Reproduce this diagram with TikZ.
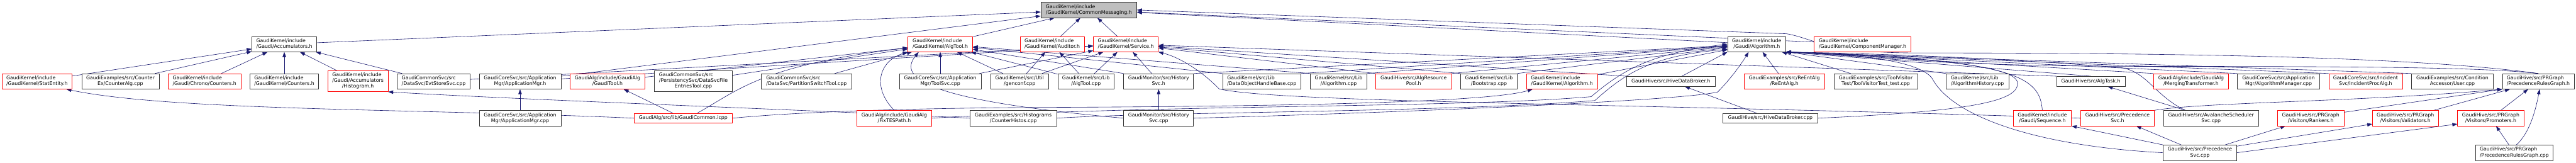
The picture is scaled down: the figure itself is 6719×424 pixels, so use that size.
\documentclass[tikz,border=0pt]{standalone}
\usepackage{fontspec}
\setmainfont{DejaVu Sans}
\usetikzlibrary{arrows.meta}
\definecolor{edgeblue}{HTML}{191970}
\definecolor{rootgray}{HTML}{BFBFBF}
\definecolor{boxred}{HTML}{FF0000}
\definecolor{boxblack}{HTML}{333333}
\pgfdeclarelayer{bg}
\pgfsetlayers{bg,main}
\newcommand\two[2]{\begin{tabular}{@{}l@{}}#1\\\multicolumn{1}{@{}c@{}}{#2}\end{tabular}}
\newcommand\three[3]{\begin{tabular}{@{}l@{}}#1\\#2\\\multicolumn{1}{@{}c@{}}{#3}\end{tabular}}
\newcommand\bx[7]{\node[#6, minimum width={#3-#2}, minimum height={#5-#4}] (#1) at ({(#2+#3)/2},{(#4+#5)/2}) {#7};}
\tikzset{
  box/.style={draw=boxblack, fill=white, line width=1pt, inner sep=0pt},
  rbox/.style={box, draw=boxred},
  rootbox/.style={box, fill=rootgray, draw=boxblack},
  dep/.style={draw=edgeblue, line width=1pt, -{Triangle[length=13pt,width=9pt]}},
}
\begin{document}
\begin{tikzpicture}[x=1pt,y=-1pt,font=\fontsize{12.8}{15}\selectfont]
\useasboundingbox (0,0) rectangle (6719,424);
% row 0
\bx{root}{2715}{2965}{6}{46}{rootbox}{\two{GaudiKernel/include}{/GaudiKernel/CommonMessaging.h}}
% row 1
\bx{acc}{657}{826}{95}{135}{box}{\two{GaudiKernel/include}{/Gaudi/Accumulators.h}}
\bx{algtoolh}{2368}{2537}{95}{135}{rbox}{\two{GaudiKernel/include}{/GaudiKernel/AlgTool.h}}
\bx{auditor}{2661}{2828}{95}{135}{rbox}{\two{GaudiKernel/include}{/GaudiKernel/Auditor.h}}
\bx{service}{2852}{3021}{95}{135}{rbox}{\two{GaudiKernel/include}{/GaudiKernel/Service.h}}
\bx{galg}{4506}{4658}{95}{135}{box}{\two{GaudiKernel/include}{/Gaudi/Algorithm.h}}
\bx{compmgr}{4732}{4984}{95}{135}{rbox}{\two{GaudiKernel/include}{/GaudiKernel/ComponentManager.h}}
% row 2
\bx{statentity}{5}{188}{192}{232}{rbox}{\two{GaudiKernel/include}{/GaudiKernel/StatEntity.h}}
\bx{counteralg}{213}{415}{192}{232}{box}{\two{GaudiExamples/src/Counter}{Ex/CounterAlg.cpp}}
\bx{chrono}{439}{628}{192}{232}{rbox}{\two{GaudiKernel/include}{/Gaudi/Chrono/Counters.h}}
\bx{counters}{652}{831}{192}{232}{box}{\two{GaudiKernel/include}{/GaudiKernel/Counters.h}}
\bx{histogram}{855}{1012}{184}{239}{rbox}{\three{GaudiKernel/include}{/Gaudi/Accumulators}{/Histogram.h}}
\bx{evtstore}{1036}{1226}{192}{232}{box}{\two{GaudiCommonSvc/src}{/DataSvc/EvtStoreSvc.cpp}}
\bx{appmgrh}{1250}{1463}{192}{232}{box}{\two{GaudiCoreSvc/src/Application}{Mgr/ApplicationMgr.h}}
\bx{gauditool}{1487}{1682}{192}{232}{rbox}{\two{GaudiAlg/include/GaudiAlg}{/GaudiTool.h}}
\bx{dsfet}{1707}{1910}{184}{239}{box}{\three{GaudiCommonSvc/src}{/PersistencySvc/DataSvcFile}{EntriesTool.cpp}}
\bx{pst}{1986}{2221}{192}{232}{box}{\two{GaudiCommonSvc/src}{/DataSvc/PartitionSwitchTool.cpp}}
\bx{toolsvc}{2346}{2559}{192}{232}{box}{\two{GaudiCoreSvc/src/Application}{Mgr/ToolSvc.cpp}}
\bx{genconf}{2584}{2735}{192}{232}{box}{\two{GaudiKernel/src/Util}{/genconf.cpp}}
\bx{algtoolcpp}{2759}{2906}{192}{232}{box}{\two{GaudiKernel/src/Lib}{/AlgTool.cpp}}
\bx{histsvch}{2931}{3113}{192}{232}{box}{\two{GaudiMonitor/src/History}{Svc.h}}
\bx{dohb}{3189}{3393}{192}{232}{box}{\two{GaudiKernel/src/Lib}{/DataObjectHandleBase.cpp}}
\bx{algcpp}{3418}{3565}{192}{232}{box}{\two{GaudiKernel/src/Lib}{/Algorithm.cpp}}
\bx{arp}{3588}{3786}{192}{232}{rbox}{\two{GaudiHive/src/AlgResource}{Pool.h}}
\bx{bootstrap}{3810}{3957}{192}{232}{box}{\two{GaudiKernel/src/Lib}{/Bootstrap.cpp}}
\bx{gkalg}{3981}{4167}{192}{232}{rbox}{\two{GaudiKernel/include}{/GaudiKernel/Algorithm.h}}
\bx{hdbh}{4242}{4474}{199}{225}{box}{GaudiHive/src/HiveDataBroker.h}
\bx{reent}{4549}{4759}{192}{232}{rbox}{\two{GaudiExamples/src/ReEntAlg}{/ReEntAlg.h}}
\bx{tvt}{4783}{5002}{192}{232}{box}{\two{GaudiExamples/src/ToolVisitor}{Test/ToolVisitorTest\_test.cpp}}
\bx{alghist}{5076}{5239}{192}{232}{box}{\two{GaudiKernel/src/Lib}{/AlgorithmHistory.cpp}}
\bx{algtask}{5364}{5543}{199}{225}{box}{GaudiHive/src/AlgTask.h}
\bx{merging}{5617}{5813}{192}{232}{rbox}{\two{GaudiAlg/include/GaudiAlg}{/MergingTransformer.h}}
\bx{algmgr}{5836}{6050}{192}{232}{box}{\two{GaudiCoreSvc/src/Application}{Mgr/AlgorithmManager.cpp}}
\bx{incident}{6074}{6266}{192}{232}{rbox}{\two{GaudiCoreSvc/src/Incident}{Svc/IncidentProcAlg.h}}
\bx{user}{6290}{6503}{192}{232}{box}{\two{GaudiExamples/src/Condition}{Accessor/User.cpp}}
\bx{prgh}{6527}{6714}{192}{232}{box}{\two{GaudiHive/src/PRGraph}{/PrecedenceRulesGraph.h}}
% row 3
\bx{appmgrcpp}{1250}{1463}{288}{328}{box}{\two{GaudiCoreSvc/src/Application}{Mgr/ApplicationMgr.cpp}}
\bx{gcicpp}{1654}{1910}{295}{321}{rbox}{GaudiAlg/src/lib/GaudiCommon.icpp}
\bx{fixtes}{2235}{2430}{288}{328}{rbox}{\two{GaudiAlg/include/GaudiAlg}{/FixTESPath.h}}
\bx{counterhistos}{2530}{2756}{288}{328}{box}{\two{GaudiExamples/src/Histograms}{/CounterHistos.cpp}}
\bx{histsvccpp}{2931}{3113}{288}{328}{box}{\two{GaudiMonitor/src/History}{Svc.cpp}}
\bx{hdbcpp}{4494}{4741}{295}{321}{box}{GaudiHive/src/HiveDataBroker.cpp}
\bx{sequence}{5251}{5403}{288}{328}{rbox}{\two{GaudiKernel/include}{/Gaudi/Sequence.h}}
\bx{precsvch}{5427}{5619}{288}{328}{rbox}{\two{GaudiHive/src/Precedence}{Svc.h}}
\bx{avalanche}{5643}{5891}{288}{328}{box}{\two{GaudiHive/src/AvalancheScheduler}{Svc.cpp}}
\bx{rankers}{5940}{6114}{288}{328}{rbox}{\two{GaudiHive/src/PRGraph}{/Visitors/Rankers.h}}
\bx{validators}{6188}{6360}{288}{328}{rbox}{\two{GaudiHive/src/PRGraph}{/Visitors/Validators.h}}
\bx{promoters}{6410}{6583}{288}{328}{rbox}{\two{GaudiHive/src/PRGraph}{/Visitors/Promoters.h}}
% row 4
\bx{precsvccpp}{5642}{5834}{378}{418}{box}{\two{GaudiHive/src/Precedence}{Svc.cpp}}
\bx{prgcpp}{6457}{6659}{378}{418}{box}{\two{GaudiHive/src/PRGraph}{/PrecedenceRulesGraph.cpp}}

\begin{pgfonlayer}{bg}
\fill[white] (0,0) rectangle (6719,424);
% into CommonMessaging.h
\draw[dep] (acc) -- (root);
\draw[dep] (appmgrh) -- (root);
\draw[dep] (algtoolh) -- (root);
\draw[dep] (auditor) -- (root);
\draw[dep] (service) -- (root);
\draw[dep] (galg) -- (root);
\draw[dep] (compmgr) -- (root);
\draw[dep] (prgh.north) .. controls (6300,148) and (5700,138) .. (5000,138) .. controls (4760,138) and (4730,100) .. (4660,88) -- (root.east);
% into Accumulators.h
\draw[dep] (statentity) -- (acc);
\draw[dep] (counteralg) -- (acc);
\draw[dep] (chrono) -- (acc);
\draw[dep] (counters) -- (acc);
\draw[dep] (histogram) -- (acc);
\draw[dep] (evtstore) -- (acc);
% misc left
\draw[dep] (gcicpp.west) .. controls (1100,283) and (450,290) .. (statentity.-15);
\draw[dep] (counterhistos.west) .. controls (2200,290) and (1400,262) .. (histogram.south east);
\draw[dep] (appmgrcpp) -- (appmgrh);
\draw[dep] (gcicpp) -- (gauditool);
% into AlgTool.h
\draw[dep] (gauditool) -- (algtoolh);
\draw[dep] (dsfet) -- (algtoolh);
\draw[dep] (pst) -- (algtoolh);
\draw[dep] (gcicpp.20) .. controls (1920,240) and (1980,170) .. (algtoolh);
\draw[dep] (fixtes.north) .. controls (2275,230) and (2290,160) .. (algtoolh.south west);
\draw[dep] (toolsvc) -- (algtoolh);
\draw[dep] (genconf) -- (algtoolh);
\draw[dep] (algtoolcpp) -- (algtoolh);
\draw[dep] (histsvccpp.west) .. controls (2420,262) and (2340,205) .. (algtoolh.-160);
\draw[dep] (histsvch.north west) -- (algtoolh);
\draw[dep] (dohb.north west) -- (algtoolh);
\draw[dep] (algcpp.north west) -- (algtoolh);
% into Auditor.h
\draw[dep] (genconf) -- (auditor);
\draw[dep] (algtoolcpp) -- (auditor);
% into Service.h
\draw[dep] (evtstore) -- (service);
\draw[dep] (appmgrh) -- (service);
\draw[dep] (toolsvc) -- (service);
\draw[dep] (genconf) -- (service);
\draw[dep] (algtoolcpp) -- (service);
\draw[dep] (histsvch) -- (service);
\draw[dep] (arp.north west) -- (service);
\draw[dep] (bootstrap.north west) -- (service);
\draw[dep] (hdbh.north west) -- (service);
\draw[dep] (algtask.north west) -- (service);
\draw[dep] (precsvch.west) .. controls (4200,268) and (3350,268) .. (3180,232) .. controls (3140,190) and (3080,150) .. (service.south east);
% into Gaudi/Algorithm.h from the left
\draw[dep] (gkalg) -- (galg);
\draw[dep] (algcpp.north east) -- (galg);
\draw[dep] (arp.north east) -- (galg);
\draw[dep] (dohb.north east) -- (galg);
\draw[dep] (bootstrap.north east) -- (galg);
\draw[dep] (histsvch.north east) -- (galg);
\draw[dep] (hdbh.25) -- (galg.south west);
\draw[dep] (fixtes.east) .. controls (3000,272) and (3800,282) .. (4150,252) .. controls (4230,185) and (4300,140) .. (galg.west);
\draw[dep] (counterhistos.east) .. controls (3000,292) and (3800,292) .. (4160,262) .. controls (4240,190) and (4310,145) .. (galg.190);
\draw[dep] (histsvccpp.east) .. controls (3700,292) and (4380,262) .. (4480,240) .. controls (4510,210) and (4540,170) .. (galg.-136);
\draw[dep] (gcicpp.east) .. controls (2100,290) and (2400,282) .. (2700,280) .. controls (3500,277) and (3900,262) .. (gkalg.-165);
% into Gaudi/Algorithm.h from the right
\draw[dep] (reent) -- (galg);
\draw[dep] (tvt) -- (galg);
\draw[dep] (alghist.north west) -- (galg.south east);
\draw[dep] (algtask.north) -- (galg.south east);
\draw[dep] (merging.north west) -- (galg.south east);
\draw[dep] (algmgr.north west) -- (galg.south east);
\draw[dep] (incident.north west) -- (galg.south east);
\draw[dep] (user.north west) -- (galg.south east);
\draw[dep] (prgh.north) .. controls (6480,176) and (6200,173) .. (5600,173) .. controls (5000,173) and (4800,140) .. (galg.south east);
\draw[dep] (sequence.north) .. controls (5320,200) and (5260,155) .. (galg.south east);
\draw[dep] (avalanche.163) .. controls (5620,250) and (5600,185) .. (5530,176) .. controls (5200,150) and (4900,140) .. (galg.south east);
\draw[dep] (precsvccpp.west) .. controls (5300,380) and (5090,300) .. (5040,205) .. controls (5010,160) and (4850,140) .. (galg.south east);
\draw[dep] (hdbcpp.east) .. controls (5150,290) and (5268,262) .. (5262,215) .. controls (5256,168) and (5000,150) .. (galg.south east);
% Hive part
\draw[dep] (hdbcpp) -- (hdbh);
\draw[dep] (avalanche) -- (algtask);
\draw[dep] (precsvccpp) -- (precsvch);
\draw[dep] (precsvccpp.north west) -- (sequence.south east);
\draw[dep] (precsvccpp) -- (rankers);
\draw[dep] (precsvccpp.10) -- (validators.-170);
\draw[dep] (precsvccpp.east) -- (promoters.-170);
\draw[dep] (precsvch.north east) .. controls (5750,266) and (6150,266) .. (prgh.south west);
\draw[dep] (rankers.10) -- (prgh.south west);
\draw[dep] (validators) -- (prgh);
\draw[dep] (promoters) -- (prgh);
\draw[dep] (prgcpp) -- (promoters);
\draw[dep] (prgcpp.75) .. controls (6600,345) and (6615,280) .. (prgh.-80);
\draw[dep] (histsvccpp) -- (histsvch);
\end{pgfonlayer}
\end{tikzpicture}
\end{document}
